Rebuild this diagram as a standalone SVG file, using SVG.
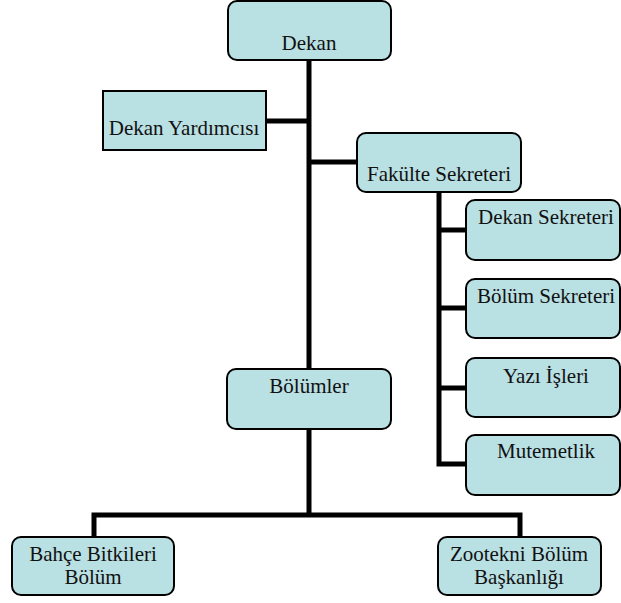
<svg xmlns="http://www.w3.org/2000/svg" width="621" height="603" viewBox="0 0 621 603">
<style>
.box{fill:#b9e0e3;stroke:#000;stroke-width:2}
.c{stroke:#000;stroke-width:5;fill:none}
</style>
<rect width="621" height="603" fill="#fff"/>
<g id="connectors">
<line class="c" x1="309" y1="60" x2="309" y2="369"/>
<line class="c" x1="266" y1="121" x2="309" y2="121"/>
<line class="c" x1="309" y1="162" x2="357" y2="162"/>
<polyline class="c" points="439,192 439,464 466,464"/>
<line class="c" x1="439" y1="230" x2="466" y2="230"/>
<line class="c" x1="439" y1="308" x2="466" y2="308"/>
<line class="c" x1="439" y1="388" x2="466" y2="388"/>
<line class="c" x1="309" y1="429" x2="309" y2="515"/>
<polyline class="c" points="94,537 94,515 520,515 520,537"/>
</g>
<g font-family="Liberation Serif, Times New Roman, DejaVu Serif, serif" font-size="21" fill="#111" text-anchor="middle">
<g id="dekan"><rect class="box" x="228" y="1" width="163" height="59" rx="9"/><text x="309" y="50">Dekan</text></g>
<g id="dekan-yardimcisi"><rect class="box" x="103" y="91" width="163" height="59"/><text x="184" y="135">Dekan Yardımcısı</text></g>
<g id="fakulte-sekreteri"><rect class="box" x="357" y="133" width="164" height="59" rx="9"/><text x="439" y="181">Fakülte Sekreteri</text></g>
<g id="dekan-sekreteri"><rect class="box" x="466" y="200" width="154" height="60" rx="9"/><text x="546" y="224">Dekan Sekreteri</text></g>
<g id="bolum-sekreteri"><rect class="box" x="466" y="279" width="154" height="59" rx="9"/><text x="546" y="303">Bölüm Sekreteri</text></g>
<g id="yazi-isleri"><rect class="box" x="466" y="358" width="154" height="59" rx="9"/><text x="546" y="383">Yazı İşleri</text></g>
<g id="mutemetlik"><rect class="box" x="466" y="435" width="154" height="60" rx="9"/><text x="546" y="458">Mutemetlik</text></g>
<g id="bolumler"><rect class="box" x="227" y="369" width="164" height="60" rx="9"/><text x="309" y="393">Bölümler</text></g>
<g id="bahce-bitkileri"><rect class="box" x="12" y="537" width="162" height="58" rx="9"/><text x="93" y="561">Bahçe Bitkileri</text><text x="93" y="584">Bölüm</text></g>
<g id="zootekni"><rect class="box" x="438" y="537" width="163" height="58" rx="9"/><text x="519" y="561">Zootekni Bölüm</text><text x="519" y="584">Başkanlığı</text></g>
</g>
</svg>
